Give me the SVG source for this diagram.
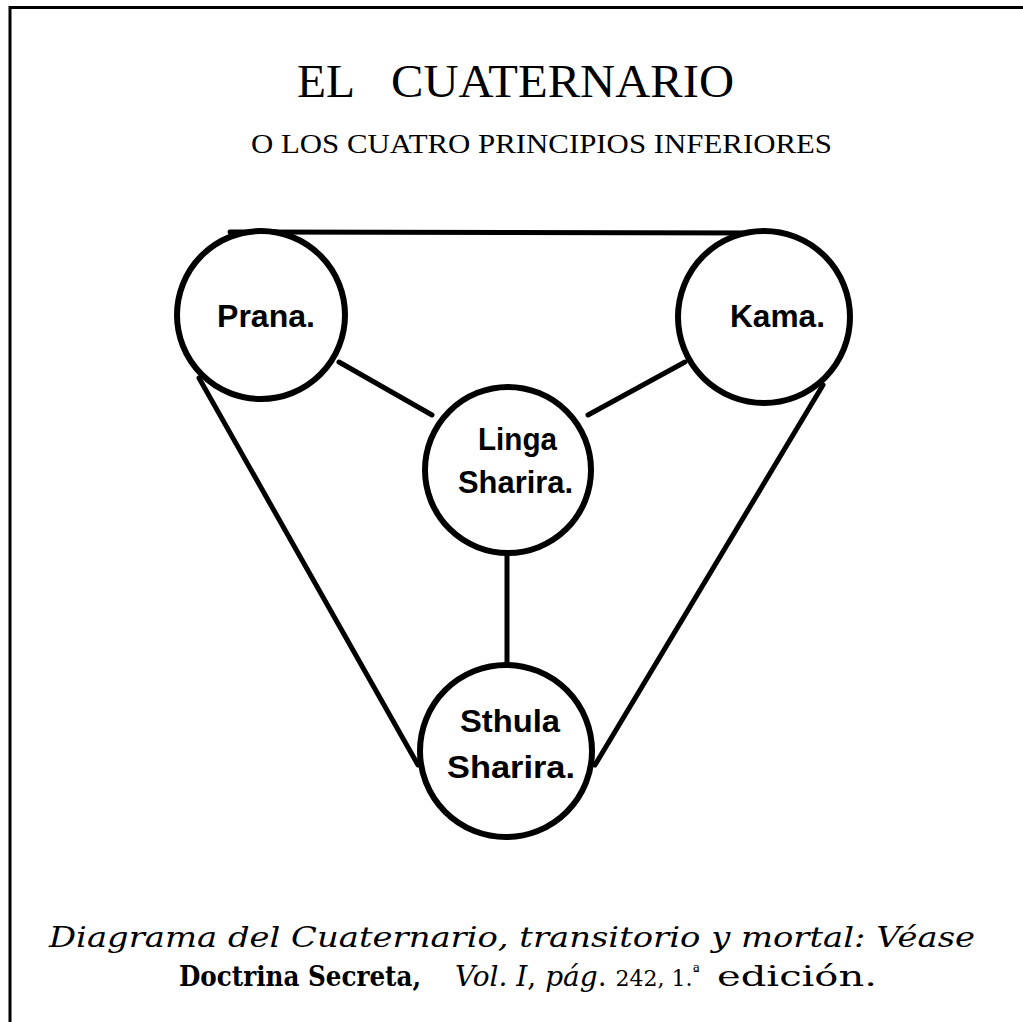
<svg xmlns="http://www.w3.org/2000/svg" width="1023" height="1022" viewBox="0 0 1023 1022">
<style>
.frame{stroke:#000;stroke-width:3;fill:none}
.node{fill:#fff;stroke:#000;stroke-width:6}
.edge{stroke:#000;stroke-width:5;fill:none;stroke-linecap:round}
.lbl{font-family:"Liberation Sans","DejaVu Sans",sans-serif;font-weight:bold;font-size:31px;fill:#000}
.title{font-family:"Liberation Serif","DejaVu Serif",serif;fill:#000}
.cap{font-family:"DejaVu Serif","Liberation Serif",serif;fill:#000;font-size:28px}
.it{font-style:italic}
.num{font-size:22px}
</style>
<rect width="1023" height="1022" fill="#fff"/>
<path class="frame" d="M10,1022 V7.5 H1023"/>
<text class="title" y="97" font-size="47"><tspan x="297" textLength="58" lengthAdjust="spacingAndGlyphs">EL</tspan><tspan x="391" textLength="343" lengthAdjust="spacingAndGlyphs">CUATERNARIO</tspan></text>
<text class="title" x="251" y="153" font-size="27" textLength="581" lengthAdjust="spacingAndGlyphs">O LOS CUATRO PRINCIPIOS INFERIORES</text>
<g id="connectors">
<line class="edge" x1="230" y1="232" x2="770" y2="233"/>
<line class="edge" x1="199" y1="378" x2="418" y2="765"/>
<line class="edge" x1="823" y1="385" x2="595" y2="765"/>
<line class="edge" x1="339" y1="362" x2="432" y2="415"/>
<line class="edge" x1="685" y1="362" x2="588" y2="415"/>
<line class="edge" x1="507" y1="553" x2="507" y2="663"/>
</g>
<g id="prana">
<circle class="node" cx="261" cy="315" r="84"/>
<text class="lbl" x="217" y="327" textLength="98" lengthAdjust="spacingAndGlyphs">Prana.</text>
</g>
<g id="kama">
<circle class="node" cx="764" cy="317" r="86"/>
<text class="lbl" x="730" y="327" textLength="95" lengthAdjust="spacingAndGlyphs">Kama.</text>
</g>
<g id="linga">
<circle class="node" cx="508" cy="470" r="83"/>
<text class="lbl" x="478" y="450" textLength="79" lengthAdjust="spacingAndGlyphs">Linga</text>
<text class="lbl" x="458" y="493" textLength="115" lengthAdjust="spacingAndGlyphs">Sharira.</text>
</g>
<g id="sthula">
<circle class="node" cx="506" cy="751" r="86"/>
<text class="lbl" x="460" y="732" textLength="100" lengthAdjust="spacingAndGlyphs">Sthula</text>
<text class="lbl" x="447" y="778" textLength="128" lengthAdjust="spacingAndGlyphs">Sharira.</text>
</g>
<text class="cap it" x="49" y="947" font-size="29" textLength="926" lengthAdjust="spacingAndGlyphs">Diagrama del Cuaternario, transitorio y mortal: Véase</text>
<text class="cap" x="179" y="986" font-weight="bold" font-size="29" textLength="242" lengthAdjust="spacingAndGlyphs">Doctrina Secreta,</text>
<text class="cap" x="455" y="986"><tspan class="it">Vol. I</tspan>, <tspan class="it">pág</tspan>. <tspan class="num">242, 1.<tspan font-size="15" dy="-9">ª</tspan></tspan></text>
<text class="cap" x="717" y="986" textLength="160" lengthAdjust="spacingAndGlyphs">edición.</text>
</svg>
